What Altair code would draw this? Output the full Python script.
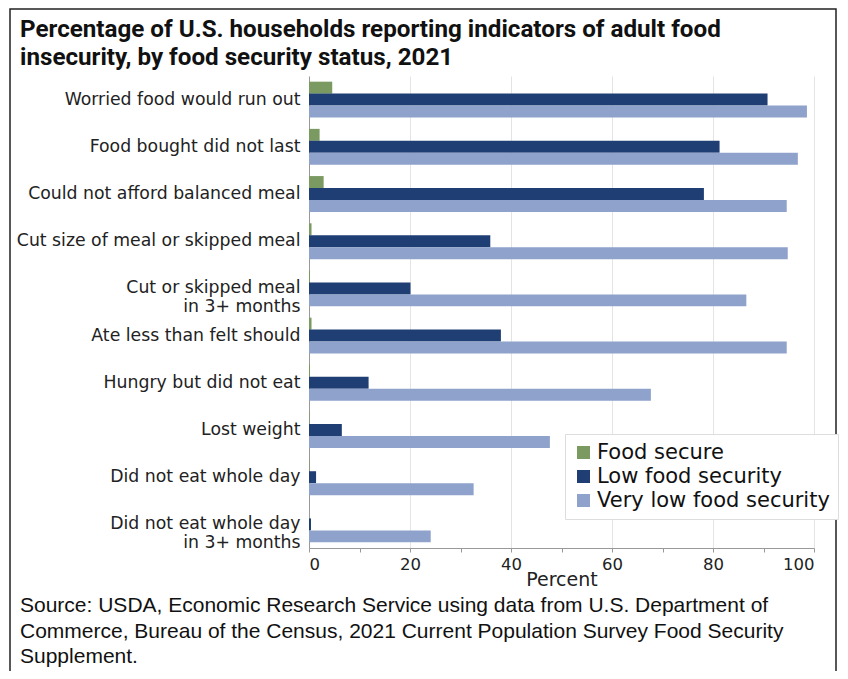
import altair as alt
import pandas as pd

categories = [
    "Worried food would run out",
    "Food bought did not last",
    "Could not afford balanced meal",
    "Cut size of meal or skipped meal",
    "Cut or skipped meal\nin 3+ months",
    "Ate less than felt should",
    "Hungry but did not eat",
    "Lost weight",
    "Did not eat whole day",
    "Did not eat whole day\nin 3+ months",
]
series = ["Food secure", "Low food security", "Very low food security"]
food_secure = [4.6, 2.1, 2.9, 0.5, 0.2, 0.5, 0.2, 0.1, 0.1, 0.0]
low_food_security = [90.8, 81.3, 78.2, 35.9, 20.1, 38.0, 11.8, 6.5, 1.4, 0.4]
very_low_food_security = [98.6, 96.8, 94.6, 94.8, 86.6, 94.6, 67.7, 47.7, 32.6, 24.1]
colors = ["#7b9a62", "#1f3e73", "#8ea2cb"]
x_ticks = [0, 10, 20, 30, 40, 50, 60, 70, 80, 90, 100]
title_lines = [
    "Percentage of U.S. households reporting indicators of adult food",
    "insecurity, by food security status, 2021",
]
source_lines = [
    "Source: USDA, Economic Research Service using data from U.S. Department of",
    "Commerce, Bureau of the Census, 2021 Current Population Survey Food Security",
    "Supplement.",
]

rows = []
for vals, s in zip([food_secure, low_food_security, very_low_food_security], series):
    for c, v in zip(categories, vals):
        rows.append({"category": c, "series": s, "value": v})
df = pd.DataFrame(rows)

W, H = 505, 472

bars = alt.Chart(df).mark_bar(height={"band": 1}).encode(
    x=alt.X(
        "value:Q",
        scale=alt.Scale(domain=[0, 100], nice=False),
        axis=alt.Axis(
            values=x_ticks, title="Percent", labelFontSize=16.5, titleFontSize=19,
            labelExpr="datum.value % 20 === 0 ? datum.label : ''",
            gridOpacity={"condition": {"test": "datum.value % 20 === 0", "value": 1}, "value": 0},
            titleFontWeight="normal", labelColor="#222", titleColor="#222",
            titlePadding=-2, labelPadding=4, tickSize=4, tickColor="#999",
            domainColor="#999", gridColor="#e4e4e4", labelFont="DejaVu Sans",
            titleFont="DejaVu Sans",
        ),
    ),
    y=alt.Y(
        "category:N",
        sort=categories,
        scale=alt.Scale(paddingInner=0.24, paddingOuter=0.12),
        axis=alt.Axis(
            title=None, labelExpr="split(datum.label, '\\n')", labelFontSize=17.3,
            labelFont="DejaVu Sans", labelColor="#222", labelLineHeight=19,
            ticks=False, labelPadding=9, domainColor="#999", grid=False,
            labelLimit=400,
        ),
    ),
    yOffset=alt.YOffset("series:N", sort=series, scale=alt.Scale(paddingInner=0, paddingOuter=0)),
    color=alt.Color(
        "series:N",
        sort=series,
        scale=alt.Scale(domain=series, range=colors),
        legend=alt.Legend(
            title=None, orient="none", legendX=256, legendY=358,
            labelFontSize=21, labelFont="DejaVu Sans", labelColor="#111",
            symbolType="square", symbolSize=169, symbolStrokeWidth=0,
            fillColor="white", strokeColor="#dddddd", padding=8, rowPadding=2,
            labelLimit=400, symbolOffset=0, labelOffset=3,
        ),
    ),
)

src = pd.DataFrame({"text": ["\n".join(source_lines)]})
source = alt.Chart(src).mark_text(
    align="left", baseline="top", fontSize=21, font="Liberation Sans",
    lineHeight=25.5, color="#111", lineBreak="\n",
).encode(
    text="text:N",
    x=alt.value(-289),
    y=alt.value(519),
)

frame = alt.Chart(alt.Data(values=[{"f": 1}])).mark_rect(
    fill=None, stroke="#222", strokeWidth=1.5,
).encode(
    x=alt.value(-299), x2=alt.value(527), y=alt.value(-67), y2=alt.value(640),
)

chart = alt.layer(bars, source, frame).properties(
    width=W,
    height=H,
    title=alt.TitleParams(
        text=title_lines, anchor="start", frame="group", dx=-289, offset=12, dy=74,
        fontSize=24.2, font="Roboto", fontWeight="bold", lineHeight=28, color="#111",
    ),
    autosize="none",
    padding={"left": 301, "top": 68, "right": 26, "bottom": 123},
).configure_view(stroke=None)

chart.save("out.html", embed_options={"renderer": "svg", "actions": False})
